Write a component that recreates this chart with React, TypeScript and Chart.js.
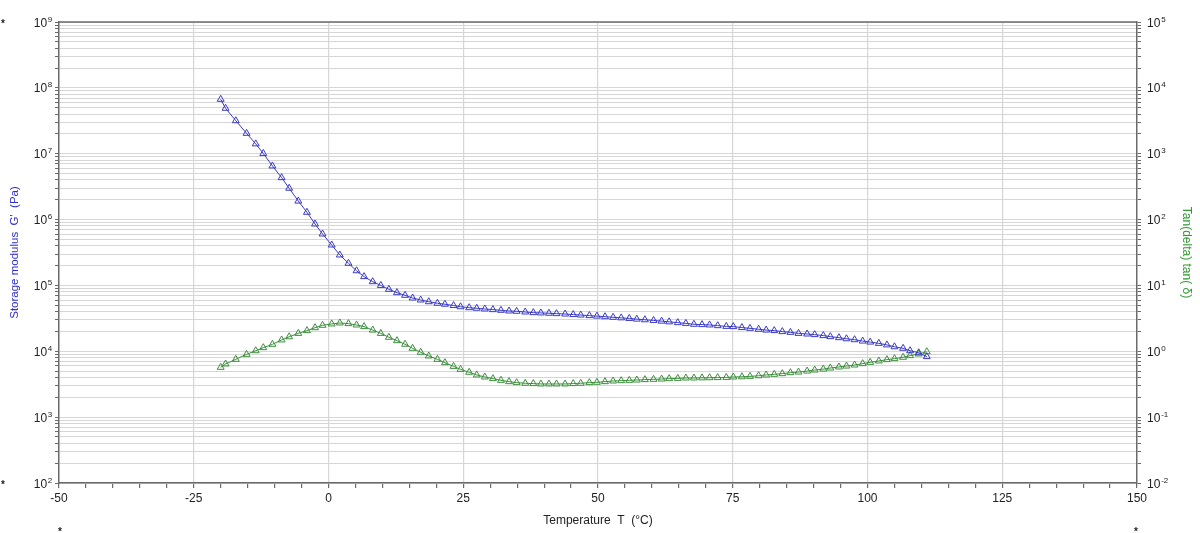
import React, { useEffect, useRef } from 'react';
import { Chart, registerables } from 'chart.js';

Chart.register(...registerables);

// Temperature (°C)
const temperatures = [
  -20.0, -19.1, -17.2, -15.2, -13.5, -12.1, -10.4, -8.7, -7.3, -5.6, -4.0, -2.5, -1.1, 0.6, 2.1, 3.7, 5.2, 6.6, 8.2, 9.7,
  11.2, 12.7, 14.2, 15.6, 17.1, 18.6, 20.2, 21.6, 23.2,
  24.5, 26.1, 27.5, 29.0, 30.5, 32.0, 33.5, 34.9, 36.5, 38.0, 39.4, 40.9, 42.3, 43.9, 45.4, 46.8, 48.4, 49.8, 51.3, 52.8,
  54.3, 55.8, 57.2, 58.7, 60.3, 61.8, 63.2, 64.8, 66.3,
  67.8, 69.3, 70.7, 72.2, 73.8, 75.1, 76.7, 78.2, 79.8, 81.2, 82.7, 84.2, 85.7, 87.2, 88.8, 90.2, 91.8, 93.1, 94.7, 96.1,
  97.6, 99.1, 100.5, 102.1, 103.6, 105.0, 106.6, 107.9, 109.5, 111.0,
];

// Storage modulus G' (Pa)
const storageModulus = [
  6.70e7, 4.90e7, 3.17e7, 2.04e7, 1.41e7, 1.01e7, 6.52e6, 4.33e6, 2.99e6, 1.91e6, 1.29e6, 8.57e5, 6.04e5, 4.11e5, 2.90e5,
  2.17e5, 1.67e5, 1.36e5, 1.14e5, 1.00e5, 8.73e4, 7.76e4, 7.08e4, 6.44e4, 6.01e4, 5.66e4, 5.36e4, 5.18e4, 4.95e4,
  4.75e4, 4.59e4, 4.50e4, 4.39e4, 4.29e4, 4.19e4, 4.09e4, 4.05e4, 3.95e4, 3.86e4, 3.82e4, 3.78e4, 3.73e4, 3.68e4, 3.61e4,
  3.55e4, 3.48e4, 3.42e4, 3.35e4, 3.28e4, 3.22e4, 3.15e4, 3.08e4, 3.01e4, 2.94e4, 2.87e4, 2.80e4, 2.72e4, 2.65e4,
  2.57e4, 2.54e4, 2.51e4, 2.45e4, 2.39e4, 2.37e4, 2.29e4, 2.23e4, 2.16e4, 2.10e4, 2.06e4, 1.99e4, 1.94e4, 1.87e4, 1.83e4,
  1.79e4, 1.73e4, 1.67e4, 1.61e4, 1.55e4, 1.50e4, 1.43e4, 1.38e4, 1.32e4, 1.25e4, 1.17e4, 1.11e4, 1.02e4, 9.5e3, 8.3e3,
];

// Tan(delta)
const tanDelta = [
  0.571, 0.641, 0.755, 0.899, 1.02, 1.135, 1.276, 1.486, 1.66, 1.87, 2.06, 2.28, 2.48, 2.60, 2.69, 2.63, 2.51, 2.37, 2.10,
  1.87, 1.63, 1.45, 1.28, 1.11, 0.966, 0.849, 0.755, 0.671, 0.59,
  0.532, 0.480, 0.437, 0.407, 0.384, 0.362, 0.346, 0.334, 0.327, 0.323, 0.319, 0.319, 0.319, 0.319, 0.323, 0.327, 0.334,
  0.338, 0.346, 0.354, 0.358, 0.362, 0.366, 0.371, 0.375, 0.379, 0.384, 0.388, 0.393,
  0.393, 0.395, 0.397, 0.399, 0.401, 0.407, 0.410, 0.416, 0.425, 0.437, 0.447, 0.457, 0.473, 0.484, 0.501, 0.519, 0.537,
  0.557, 0.578, 0.597, 0.619, 0.649, 0.679, 0.713, 0.746, 0.773, 0.811, 0.859, 0.910, 0.986,
];

const xMin = -50;
const xMax = 150;
const xMajorStep = 25;
const xMinorStep = 5;
const leftExpRange = [2, 9];
const rightExpRange = [-2, 5];

const leftTitle = "Storage modulus  G'  (Pa)";
const rightTitle = 'Tan(delta) tan( δ)';
const bottomTitle = 'Temperature  T  (°C)';

const BLUE = '#3a3ac8';
const GREEN = '#3c8f3c';
const BLUE_TITLE = '#2b2bd0';
const GREEN_TITLE = '#2f9a2f';
const AXIS = '#6a6a6a';
const GRID = '#d6d6d6';
const TEXT = '#222';
const FONT = '"Liberation Sans", Arial, sans-serif';

function logTickValues(minExp: number, maxExp: number) {
  const out: number[] = [];
  for (let e = minExp; e < maxExp; e++) {
    for (let m = 1; m <= 9; m++) out.push(parseFloat((m * Math.pow(10, e)).toPrecision(6)));
  }
  out.push(Math.pow(10, maxExp));
  return out;
}

function drawPowerLabels(chart: any, scaleId: string, range: number[], side: 'left' | 'right', gap: number) {
  const { ctx } = chart;
  const scale = chart.scales[scaleId];
  if (!scale) return;
  const edge = side === 'left' ? scale.right : scale.left;
  for (let e = range[0]; e <= range[1]; e++) {
    const y = scale.getPixelForValue(Math.pow(10, e));
    const base = '10';
    const sup = String(e);
    ctx.font = `12px ${FONT}`;
    const wb = ctx.measureText(base).width;
    ctx.font = `8px ${FONT}`;
    const ws = ctx.measureText(sup).width;
    const x0 = side === 'left' ? edge - gap - ws - wb - 0.5 : edge + gap;
    ctx.fillStyle = TEXT;
    ctx.textAlign = 'left';
    ctx.textBaseline = 'alphabetic';
    ctx.font = `12px ${FONT}`;
    ctx.fillText(base, x0, y + 4.5);
    ctx.font = `8px ${FONT}`;
    ctx.fillText(sup, x0 + wb + 0.8, y - 0.5);
  }
}

const extrasPlugin = {
  id: 'extras',
  afterDraw(chart: any) {
    const { ctx, chartArea } = chart;
    ctx.save();
    ctx.strokeStyle = AXIS;
    ctx.lineWidth = 1.5;
    ctx.beginPath();
    ctx.moveTo(chartArea.left, chartArea.top);
    ctx.lineTo(chartArea.right, chartArea.top);
    ctx.stroke();

    drawPowerLabels(chart, 'y', leftExpRange, 'left', 7);
    drawPowerLabels(chart, 'y1', rightExpRange, 'right', 10);

    ctx.fillStyle = TEXT;
    ctx.font = `bold 10px ${FONT}`;
    ctx.textAlign = 'center';
    ctx.textBaseline = 'middle';
    ctx.fillText('*', 3, chartArea.top + 2);
    ctx.fillText('*', 3, chartArea.bottom + 2);
    ctx.fillText('*', chartArea.left + 1, 532);
    ctx.fillText('*', chartArea.right - 1, 532);
    ctx.restore();
  },
};

export default function App() {
  const ref = useRef<HTMLCanvasElement | null>(null);

  useEffect(() => {
    if (!ref.current) return;
    const leftTicks = logTickValues(leftExpRange[0], leftExpRange[1]);
    const rightTicks = logTickValues(rightExpRange[0], rightExpRange[1]);

    const chart = new Chart(ref.current, {
      type: 'scatter',
      data: {
        datasets: [
          {
            label: "G'",
            data: temperatures.map((t, i) => ({ x: t, y: storageModulus[i] })),
            yAxisID: 'y',
            showLine: true,
            borderColor: BLUE,
            borderWidth: 1,
            pointStyle: 'triangle',
            pointRadius: 4,
            pointBorderWidth: 1,
            pointBorderColor: BLUE,
            pointBackgroundColor: 'rgba(0,0,0,0)',
            backgroundColor: 'rgba(0,0,0,0)',
          },
          {
            label: 'tan δ',
            data: temperatures.map((t, i) => ({ x: t, y: tanDelta[i] })),
            yAxisID: 'y1',
            showLine: true,
            borderColor: GREEN,
            borderWidth: 1,
            pointStyle: 'triangle',
            pointRadius: 4,
            pointBorderWidth: 1,
            pointBorderColor: GREEN,
            pointBackgroundColor: 'rgba(0,0,0,0)',
            backgroundColor: 'rgba(0,0,0,0)',
          },
        ],
      },
      options: {
        responsive: false,
        animation: false,
        devicePixelRatio: 1,
        layout: { padding: { top: 22, left: 0, right: 0, bottom: 0 } },
        plugins: { legend: { display: false }, tooltip: { enabled: false } },
        scales: {
          x: {
            type: 'linear',
            min: xMin,
            max: xMax,
            afterFit: (s: any) => { s.height = 50; },
            border: { color: AXIS, width: 1.5 },
            grid: {
              color: (c: any) => {
                const v = c.tick ? c.tick.value : NaN;
                return v % xMajorStep === 0 && v !== xMin && v !== xMax ? GRID : 'rgba(0,0,0,0)';
              },
              lineWidth: 1.2,
              tickColor: AXIS,
              tickLength: 5,
            },
            ticks: {
              stepSize: xMinorStep,
              autoSkip: false,
              maxRotation: 0,
              padding: 3,
              color: TEXT,
              font: { size: 12, family: FONT },
              callback: (v: any) => (Number(v) % xMajorStep === 0 ? String(v) : ''),
            },
            title: {
              display: true,
              text: bottomTitle,
              color: TEXT,
              font: { size: 12, family: FONT },
              padding: { top: 0, bottom: 5 },
            },
          },
          y: {
            type: 'logarithmic',
            position: 'left',
            min: Math.pow(10, leftExpRange[0]),
            max: Math.pow(10, leftExpRange[1]),
            afterBuildTicks: (s: any) => { s.ticks = leftTicks.map((v) => ({ value: v })); },
            afterFit: (s: any) => { s.width = 59; },
            border: { color: AXIS, width: 1.5 },
            grid: { color: GRID, lineWidth: 1, tickColor: AXIS, tickLength: 4 },
            ticks: { display: false, autoSkip: false },
            title: {
              display: true,
              text: leftTitle,
              color: BLUE_TITLE,
              font: { size: 11.5, family: FONT },
              padding: { top: 8, bottom: 0 },
            },
          },
          y1: {
            type: 'logarithmic',
            position: 'right',
            min: Math.pow(10, rightExpRange[0]),
            max: Math.pow(10, rightExpRange[1]),
            afterBuildTicks: (s: any) => { s.ticks = rightTicks.map((v) => ({ value: v })); },
            afterFit: (s: any) => { s.width = 63; },
            border: { color: AXIS, width: 1.5 },
            grid: { drawOnChartArea: false, tickColor: AXIS, tickLength: 4 },
            ticks: { display: false, autoSkip: false },
            title: {
              display: true,
              text: rightTitle,
              color: GREEN_TITLE,
              font: { size: 12, family: FONT },
              padding: { top: 6, bottom: 0 },
            },
          },
        },
      },
      plugins: [extrasPlugin],
    } as any);

    return () => chart.destroy();
  }, []);

  return (
    <div style={{ position: 'fixed', left: 0, top: 0, width: 1200, height: 533, background: '#fff' }}>
      <canvas ref={ref} width={1200} height={533} style={{ display: 'block' }} />
    </div>
  );
}
